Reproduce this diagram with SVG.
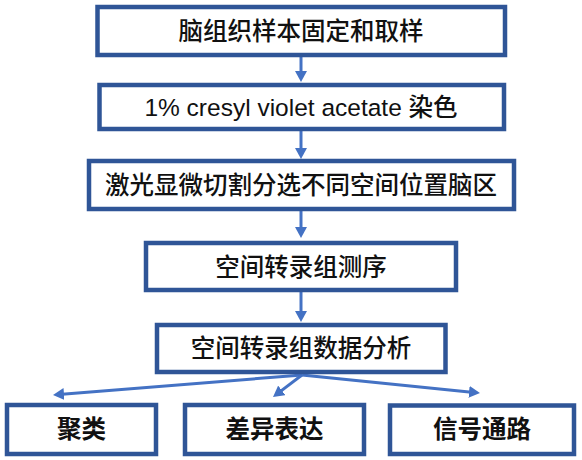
<svg xmlns="http://www.w3.org/2000/svg" width="582" height="460" viewBox="0 0 582 460">
<style>
.box{fill:#ffffff;stroke:#2F5597;stroke-width:4.5}
.lbl{font-family:"Liberation Sans","Noto Sans CJK SC",sans-serif;font-size:24.5px;font-weight:500;fill:#111111;text-anchor:middle;dominant-baseline:central}
.b{font-weight:bold}
.conn{stroke:#4472C4;stroke-width:3;fill:none;marker-end:url(#ah)}
</style>
<defs>
<marker id="ah" markerUnits="userSpaceOnUse" viewBox="0 0 11 12" markerWidth="11" markerHeight="12" refX="5" refY="6" orient="auto">
<path d="M0,0 L11,6 L0,12 z" fill="#4472C4"/>
</marker>
</defs>
<rect width="582" height="460" fill="#ffffff"/>
<g id="connectors">
<line class="conn" x1="301" y1="57" x2="301" y2="76"/>
<line class="conn" x1="301" y1="131" x2="301" y2="153"/>
<line class="conn" x1="301" y1="211" x2="301" y2="232"/>
<line class="conn" x1="301" y1="292" x2="301" y2="316"/>
<line class="conn" x1="302" y1="375" x2="59" y2="394.5"/>
<line class="conn" x1="302" y1="375" x2="277.8" y2="393.4"/>
<line class="conn" x1="302" y1="375" x2="474" y2="392.4"/>
</g>
<g id="n1"><rect class="box" x="97.5" y="7" width="407.5" height="48"/><text class="lbl" x="301" y="31">脑组织样本固定和取样</text></g>
<g id="n2"><rect class="box" x="99.5" y="85" width="404.5" height="44"/><text class="lbl" x="301" y="107">1% cresyl violet acetate 染色</text></g>
<g id="n3"><rect class="box" x="89" y="161" width="425" height="48"/><text class="lbl" x="301" y="185">激光显微切割分选不同空间位置脑区</text></g>
<g id="n4"><rect class="box" x="146" y="243" width="310" height="47"/><text class="lbl" x="301" y="267">空间转录组测序</text></g>
<g id="n5"><rect class="box" x="157" y="325" width="288.5" height="47"/><text class="lbl" x="301" y="348.5">空间转录组数据分析</text></g>
<g id="n6"><rect class="box" x="7" y="405" width="149" height="49"/><text class="lbl b" x="81.5" y="429.5">聚类</text></g>
<g id="n7"><rect class="box" x="185" y="405" width="179" height="49"/><text class="lbl b" x="274.5" y="429.5">差异表达</text></g>
<g id="n8"><rect class="box" x="390" y="405.5" width="184" height="48.5"/><text class="lbl b" x="482" y="429.5">信号通路</text></g>
</svg>
